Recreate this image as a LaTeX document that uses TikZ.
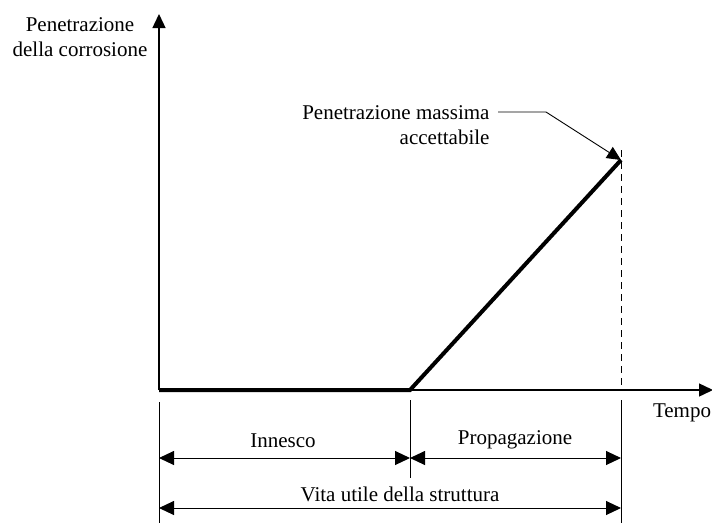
\documentclass[tikz,border=0pt]{standalone}
\usepackage{fontspec}
\setmainfont{Liberation Serif}
\usetikzlibrary{arrows.meta}
\begin{document}
\begin{tikzpicture}[x=1pt,y=-1pt,font=\fontsize{21}{25}\selectfont,
    tip/.style={-{Triangle[length=14pt,width=13pt]}},
    dim/.style={{Triangle[length=15pt,width=14pt]}-{Triangle[length=15pt,width=14pt]},line width=1pt}]
  \useasboundingbox (0,0) rectangle (712,523);
  \coordinate (o) at (159,390);
  \coordinate (ytop) at (159,14);
  \coordinate (xend) at (713,390);
  \coordinate (a) at (410,390);
  \coordinate (b) at (621,160);
  \draw[tip,line width=1.4pt] (o) -- (ytop);
  \draw[tip,line width=1.4pt] (o) -- (xend);
  \draw[line width=4pt,line join=miter] (o) -- (a) -- (b);
  \draw[dashed,line width=0.9pt,dash pattern=on 7pt off 5pt] (621,150) -- (621,390);
  \node[align=center] (yl) at (80,37) {Penetrazione\\della corrosione};
  \node (xl) at (682,413) {Tempo};
  \node[align=right,anchor=east] (pm) at (493,125) {Penetrazione massima\\accettabile};
  \coordinate (k) at (546,112);
  \draw[tip,line width=0.9pt] (498,112) -- (k) -- (b);
  \coordinate (t1) at (159,402);
  \coordinate (t2) at (410,400);
  \coordinate (t3) at (621,400);
  \draw[line width=1pt] (t1) -- (159,523);
  \draw[line width=1pt] (t2) -- (410,478);
  \draw[line width=1pt] (t3) -- (621,523);
  \draw[dim] (159,458) -- (410,458);
  \draw[dim] (410,458) -- (621,458);
  \draw[dim] (159,508) -- (621,508);
  \node (in) at (283,441) {Innesco};
  \node (pr) at (515,440) {Propagazione};
  \node (vu) at (400,494) {Vita utile della struttura};
\end{tikzpicture}
\end{document}
